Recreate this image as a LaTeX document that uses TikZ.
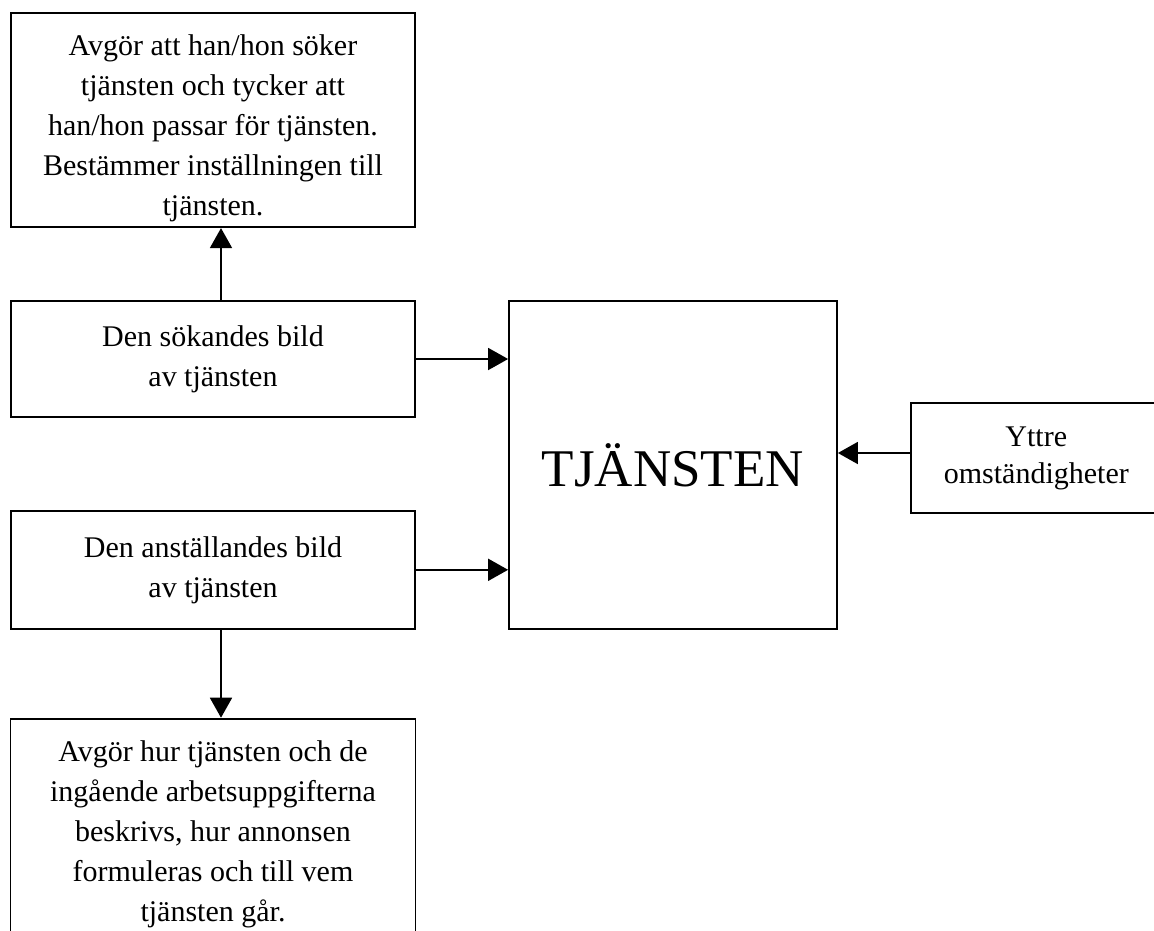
\documentclass[tikz,border=0pt]{standalone}
\usepackage{fontspec}
\setmainfont{Liberation Serif}
\usetikzlibrary{positioning,arrows.meta}

\begin{document}
\begin{tikzpicture}[x=1pt,y=-1pt,line width=1.8pt,
  box/.style={draw,inner sep=0pt,align=center,font=\fontsize{30}{40}\selectfont},
  >={Triangle[length=20pt,width=22pt]}]

  \useasboundingbox (0,0) rectangle (1154,930);
  \clip (0,0) rectangle (1154,930);

  \node[box,minimum width=328pt,minimum height=328pt,font=\fontsize{53}{60}\selectfont] (T) at (673,465) {TJÄNSTEN};
  \node[box,minimum width=404pt,minimum height=116pt] (p1) at (213,359) {Den sökandes bild\\av tjänsten};
  \node[box,minimum width=404pt,minimum height=214pt] (p0) [above=72pt of p1] {\rule{0pt}{36pt}Avgör att han/hon söker\\tjänsten och tycker att\\han/hon passar för tjänsten.\\Bestämmer inställningen till\\tjänsten.};
  \node[box,minimum width=404pt,minimum height=118pt] (p2) [below=92pt of p1] {Den anställandes bild\\av tjänsten};
  \node[box,minimum width=405pt,minimum height=216pt] (p3) [below=88pt of p2] {\rule{0pt}{36pt}Avgör hur tjänsten och de\\ingående arbetsuppgifterna\\beskrivs, hur annonsen\\formuleras och till vem\\tjänsten går.};
  \node[box,minimum width=251pt,minimum height=110pt,font=\fontsize{30}{37}\selectfont] (p4) [right=72pt of T,yshift=7pt] {Yttre\\omständigheter};

  \path[->] ([xshift=8pt]p1.north) edge ([xshift=8pt]p0.south);
  \path[->] (p1.east) edge (p1.east -| T.west);
  \path[->] (p2.east) edge (p2.east -| T.west);
  \path[->] ([yshift=5pt]p4.west) edge ([yshift=5pt]p4.west -| T.east);
  \path[->] ([xshift=8pt]p2.south) edge ([xshift=8pt]p3.north);

\end{tikzpicture}
\end{document}
